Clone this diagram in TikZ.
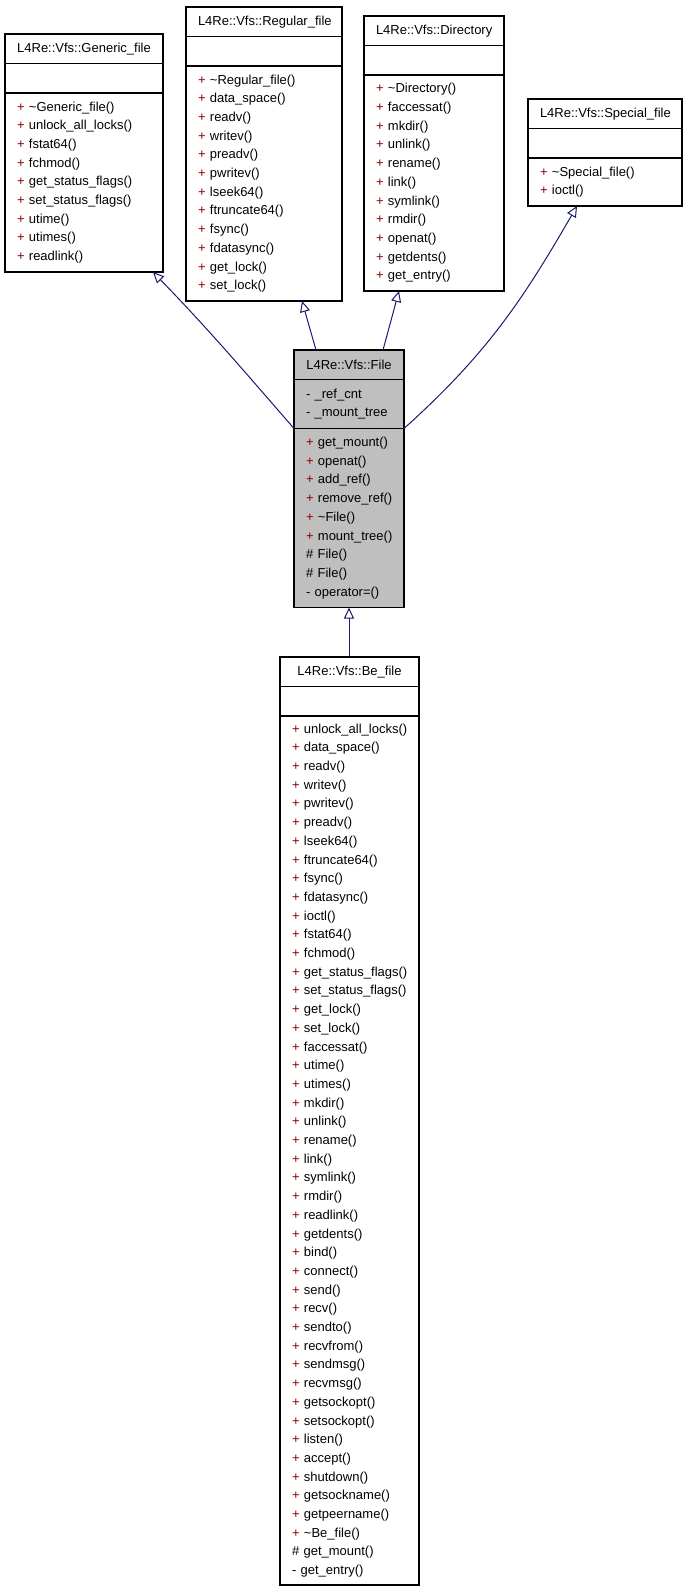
\documentclass[tikz,border=0pt]{standalone}
\usepackage{fontspec}
\setmainfont{Liberation Sans}
\usepackage{tikz}
\usetikzlibrary{shapes,arrows.meta,positioning,calc}
\usepackage{xcolor}
\definecolor{edgeblue}{HTML}{191970}
\definecolor{plusred}{HTML}{8B0000}
\definecolor{boxgray}{HTML}{BFBFBF}
\newcommand{\pubop}{\textcolor{plusred}{+}~}
\newcommand{\protop}{\#~}
\newcommand{\privop}{-~}
\newcommand{\classfont}{\fontsize{13}{18.7}\selectfont\hyphenpenalty 10000\exhyphenpenalty 10000\hbadness 10000\hfuzz 20pt\relax}
\tikzset{
    classbox/.style={rectangle, draw=black, fill=white, line width=1.2pt, outer sep=0pt, inner xsep=12pt, inner ysep=0pt, text width=#1, font=\classfont},
    classname/.style={classbox=#1, align=center, minimum height=29.5pt},
    classvars/.style={classbox=#1, align=left, minimum height=29.5pt},
    classops/.style={classbox=#1, align=left},
    inherit/.style={draw=edgeblue, line width=1pt, -{Triangle[open, length=11pt, width=10pt]}}
}
\begin{document}
\begin{tikzpicture}[x=1pt, y=1pt]
    \useasboundingbox (0,0) rectangle (688,-1592);

    % base classes
    \node [classname=134pt, anchor=north west] at (5,-34) (generic) {L4Re::Vfs::Generic\_file};
    \node [classvars=134pt, below=0pt of generic] (genericvars) {};
    \node [classops=134pt, below=0pt of genericvars, minimum height=179pt] (genericops) {\pubop\textasciitilde Generic\_file()\\ \pubop unlock\_all\_locks()\\ \pubop fstat64()\\ \pubop fchmod()\\ \pubop get\_status\_flags()\\ \pubop set\_status\_flags()\\ \pubop utime()\\ \pubop utimes()\\ \pubop readlink()};

    \node [classname=132pt, anchor=north west] at (186,-7) (regular) {L4Re::Vfs::Regular\_file};
    \node [classvars=132pt, below=0pt of regular] (regularvars) {};
    \node [classops=132pt, below=0pt of regularvars, minimum height=235pt] (regularops) {\pubop\textasciitilde Regular\_file()\\ \pubop data\_space()\\ \pubop readv()\\ \pubop writev()\\ \pubop preadv()\\ \pubop pwritev()\\ \pubop lseek64()\\ \pubop ftruncate64()\\ \pubop fsync()\\ \pubop fdatasync()\\ \pubop get\_lock()\\ \pubop set\_lock()};

    \node [classname=116pt, anchor=north west] at (364,-16) (directory) {L4Re::Vfs::Directory};
    \node [classvars=116pt, below=0pt of directory] (directoryvars) {};
    \node [classops=116pt, below=0pt of directoryvars, minimum height=216pt] (directoryops) {\pubop\textasciitilde Directory()\\ \pubop faccessat()\\ \pubop mkdir()\\ \pubop unlink()\\ \pubop rename()\\ \pubop link()\\ \pubop symlink()\\ \pubop rmdir()\\ \pubop openat()\\ \pubop getdents()\\ \pubop get\_entry()};

    \node [classname=130pt, anchor=north west] at (528,-99) (special) {L4Re::Vfs::Special\_file};
    \node [classvars=130pt, below=0pt of special] (specialvars) {};
    \node [classops=130pt, below=0pt of specialvars, minimum height=48pt] (specialops) {\pubop\textasciitilde Special\_file()\\ \pubop ioctl()};

    % the file class
    \node [classname=86pt, fill=boxgray, anchor=north west] at (294,-350) (file) {L4Re::Vfs::File};
    \node [classvars=86pt, fill=boxgray, below=0pt of file, minimum height=49pt] (filevars) {\privop\_ref\_cnt\\ \privop\_mount\_tree};
    \node [classops=86pt, fill=boxgray, below=0pt of filevars, minimum height=179pt] (fileops) {\pubop get\_mount()\\ \pubop openat()\\ \pubop add\_ref()\\ \pubop remove\_ref()\\ \pubop\textasciitilde File()\\ \pubop mount\_tree()\\ \protop File()\\ \protop File()\\ \privop operator=()};

    % derived class
    \node [classname=115pt, anchor=north west] at (280,-657) (befile) {L4Re::Vfs::Be\_file};
    \node [classvars=115pt, below=0pt of befile] (befilevars) {};
    \node [classops=115pt, below=0pt of befilevars, minimum height=869pt] (befileops) {\pubop unlock\_all\_locks()\\ \pubop data\_space()\\ \pubop readv()\\ \pubop writev()\\ \pubop pwritev()\\ \pubop preadv()\\ \pubop lseek64()\\ \pubop ftruncate64()\\ \pubop fsync()\\ \pubop fdatasync()\\ \pubop ioctl()\\ \pubop fstat64()\\ \pubop fchmod()\\ \pubop get\_status\_flags()\\ \pubop set\_status\_flags()\\ \pubop get\_lock()\\ \pubop set\_lock()\\ \pubop faccessat()\\ \pubop utime()\\ \pubop utimes()\\ \pubop mkdir()\\ \pubop unlink()\\ \pubop rename()\\ \pubop link()\\ \pubop symlink()\\ \pubop rmdir()\\ \pubop readlink()\\ \pubop getdents()\\ \pubop bind()\\ \pubop connect()\\ \pubop send()\\ \pubop recv()\\ \pubop sendto()\\ \pubop recvfrom()\\ \pubop sendmsg()\\ \pubop recvmsg()\\ \pubop getsockopt()\\ \pubop setsockopt()\\ \pubop listen()\\ \pubop accept()\\ \pubop shutdown()\\ \pubop getsockname()\\ \pubop getpeername()\\ \pubop\textasciitilde Be\_file()\\ \protop get\_mount()\\ \privop get\_entry()};

    % inheritance
    \path [inherit] (filevars.south west) to [out=131, in=-46] ([xshift=-10pt]genericops.south east);
    \path [inherit] ([xshift=-33pt]file.north) -- ([xshift=38pt]regularops.south);
    \path [inherit] ([xshift=34pt]file.north) -- ([xshift=35pt]directoryops.south west);
    \path [inherit] (filevars.south east) to [out=42, in=-120] ([xshift=-28pt]specialops.south);
    \path [inherit] (befile.north -| fileops.south) -- (fileops.south);
\end{tikzpicture}
\end{document}
